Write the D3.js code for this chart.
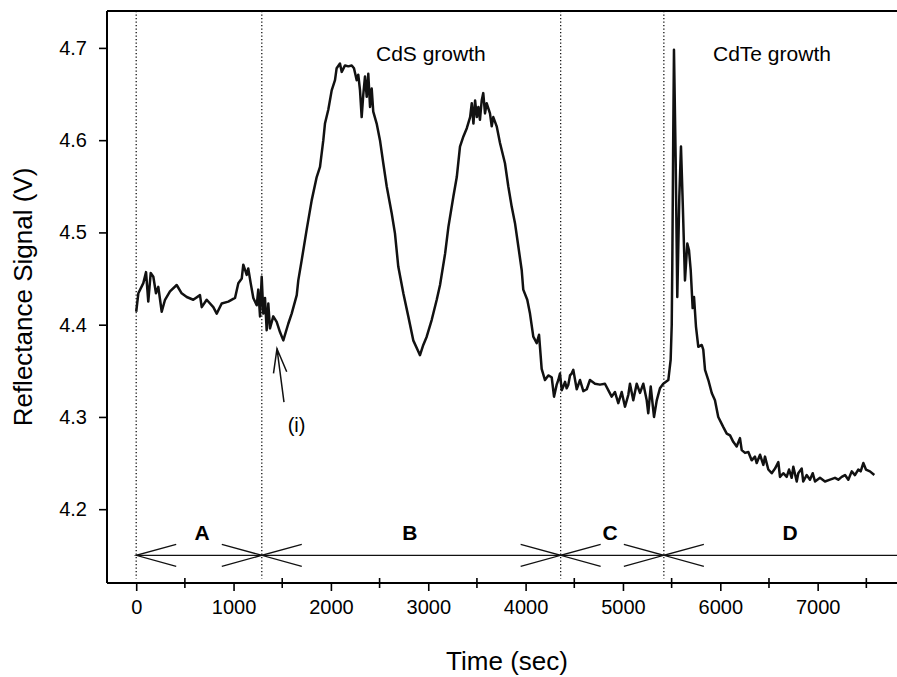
<!DOCTYPE html>
<html>
<head>
<meta charset="utf-8">
<script src="https://cdn.jsdelivr.net/npm/d3@7"></script>
<style>
  body { margin: 0; background: #fff; }
  svg { display: block; font-family: "Liberation Sans", Arial, sans-serif; }
</style>
</head>
<body>
<div id="chart"></div>
<script>
// time (sec) and reflectance signal (V)
const times = [0,22,73,101,124,149,176,203,227,262,296,347,416,467,519,586,655,673,724,792,827,878,946,1015,1049,1084,1100,1135,1151,1176,1203,1238,1254,1272,1289,1306,1323,1340,1357,1374,1408,1443,1477,1511,1562,1597,1649,1665,1700,1751,1803,1854,1888,1922,1939,1973,2008,2042,2059,2093,2111,2145,2179,2214,2237,2265,2281,2299,2316,2333,2350,2368,2384,2402,2419,2435,2470,2504,2538,2573,2624,2658,2692,2744,2795,2846,2898,2915,2949,2984,3035,3087,3121,3173,3207,3258,3293,3326,3361,3396,3430,3447,3464,3481,3499,3515,3531,3549,3565,3583,3600,3634,3652,3668,3703,3737,3788,3822,3857,3891,3925,3960,3976,4017,4045,4079,4114,4138,4165,4199,4233,4268,4292,4319,4336,4353,4371,4387,4405,4422,4439,4456,4473,4490,4525,4559,4593,4628,4661,4713,4764,4815,4849,4884,4918,4952,4987,5021,5055,5072,5106,5141,5175,5209,5244,5260,5285,5319,5347,5380,5414,5466,5490,5501,5507,5517,5524,5542,5558,5579,5596,5614,5637,5661,5678,5696,5716,5730,5750,5774,5809,5825,5843,5877,5912,5945,5979,6031,6066,6100,6133,6168,6202,6220,6254,6288,6322,6356,6374,6408,6442,6459,6493,6528,6562,6596,6613,6647,6682,6706,6733,6750,6785,6801,6836,6852,6887,6921,6949,6973,7024,7075,7127,7178,7212,7247,7281,7315,7350,7383,7417,7442,7469,7496,7537,7582];
const signal = [4.414,4.434,4.445,4.457,4.425,4.456,4.452,4.434,4.441,4.414,4.427,4.436,4.443,4.434,4.430,4.427,4.432,4.419,4.427,4.419,4.412,4.423,4.425,4.429,4.445,4.450,4.465,4.454,4.461,4.445,4.429,4.421,4.438,4.409,4.452,4.412,4.429,4.394,4.423,4.396,4.409,4.403,4.392,4.383,4.401,4.412,4.432,4.448,4.470,4.503,4.535,4.560,4.571,4.600,4.618,4.633,4.654,4.665,4.678,4.683,4.674,4.681,4.680,4.681,4.678,4.665,4.671,4.654,4.625,4.650,4.669,4.647,4.672,4.636,4.656,4.631,4.618,4.600,4.575,4.550,4.521,4.499,4.463,4.434,4.409,4.383,4.371,4.367,4.378,4.387,4.405,4.427,4.443,4.477,4.506,4.539,4.560,4.593,4.604,4.613,4.625,4.640,4.618,4.643,4.625,4.636,4.622,4.643,4.651,4.629,4.640,4.629,4.615,4.625,4.615,4.597,4.575,4.550,4.528,4.510,4.485,4.459,4.438,4.427,4.412,4.387,4.380,4.389,4.352,4.340,4.345,4.343,4.322,4.335,4.340,4.347,4.329,4.333,4.338,4.331,4.335,4.345,4.347,4.351,4.330,4.340,4.328,4.330,4.340,4.336,4.335,4.336,4.329,4.322,4.327,4.315,4.327,4.311,4.324,4.336,4.318,4.336,4.326,4.336,4.318,4.304,4.333,4.300,4.318,4.331,4.336,4.340,4.362,4.400,4.467,4.611,4.698,4.575,4.430,4.539,4.593,4.532,4.448,4.488,4.481,4.459,4.418,4.430,4.398,4.376,4.378,4.373,4.351,4.340,4.326,4.318,4.300,4.289,4.282,4.280,4.273,4.268,4.277,4.264,4.261,4.262,4.253,4.257,4.250,4.259,4.248,4.257,4.243,4.239,4.244,4.251,4.235,4.239,4.235,4.243,4.234,4.246,4.230,4.239,4.244,4.230,4.237,4.232,4.239,4.230,4.234,4.230,4.232,4.234,4.232,4.235,4.237,4.232,4.241,4.237,4.243,4.241,4.250,4.243,4.241,4.237];

const xTicks = [0,1000,2000,3000,4000,5000,6000,7000];
const xMinor = [500,1500,2500,3500,4500,5500,6500,7500];
const yTicks = [4.2,4.3,4.4,4.5,4.6,4.7];

const phaseBounds = [0,1290,4360,5420];
const phaseNames = ["A","B","C","D"];
const phaseLabelT = [676,2812,4867,6716];
const phaseLevel = 4.15, phaseLabelLevel = 4.167;

const notes = [
  {text:"CdS growth", t:2463, v:4.686},
  {text:"CdTe growth", t:5925, v:4.686}
];
const markerTail = [1518,4.316], markerTip = [1446,4.374];
const markerLabel = {text:"(i)", t:1647, v:4.284};

const W = 897, H = 677;
const m = {left: 107, top: 11, right: 897, bottom: 583};

const x = d3.scaleLinear().domain([-300,7815]).range([m.left,m.right]);
const y = d3.scaleLinear().domain([4.12,4.74]).range([m.bottom,m.top]);

const svg = d3.select("#chart").append("svg")
  .attr("width", W).attr("height", H);

svg.append("rect").attr("width", W).attr("height", H).attr("fill", "#fff");

// dotted phase boundaries
svg.append("g").selectAll("line")
  .data(phaseBounds).enter().append("line")
  .attr("x1", d => x(d)).attr("x2", d => x(d))
  .attr("y1", m.top).attr("y2", y(4.125))
  .attr("stroke", "#111").attr("stroke-width", 1.3)
  .attr("stroke-dasharray", "1.3,2.2");

// frame
svg.append("line").attr("x1", m.left).attr("x2", m.right).attr("y1", m.top).attr("y2", m.top)
  .attr("stroke", "#000").attr("stroke-width", 2);
svg.append("line").attr("x1", m.left).attr("x2", m.left).attr("y1", m.top).attr("y2", m.bottom)
  .attr("stroke", "#000").attr("stroke-width", 2);

// axes
const xAxis = svg.append("g").attr("transform", `translate(0,${m.bottom})`)
  .call(d3.axisBottom(x).tickValues(xTicks).tickSize(8).tickPadding(9).tickFormat(d3.format("d")));
xAxis.select(".domain").remove();
xAxis.append("line").attr("x1", m.left).attr("x2", m.right).attr("stroke", "#000").attr("stroke-width", 2);
xAxis.selectAll(".tick line").attr("stroke-width", 1.6);
xAxis.selectAll("text").attr("font-size", 20).attr("fill", "#000");
xAxis.selectAll(".minor").data(xMinor).enter().append("line")
  .attr("class", "minor")
  .attr("x1", d => x(d)).attr("x2", d => x(d))
  .attr("y1", -5).attr("y2", 5)
  .attr("stroke", "#000").attr("stroke-width", 1.6);

const yAxis = svg.append("g").attr("transform", `translate(${m.left},0)`)
  .call(d3.axisLeft(y).tickValues(yTicks).tickSize(8).tickPadding(12).tickFormat(d3.format(".1f")));
yAxis.select(".domain").remove();
yAxis.selectAll(".tick line").attr("stroke-width", 1.6);
yAxis.selectAll("text").attr("font-size", 20).attr("fill", "#000");

// axis titles
svg.append("text").attr("x", 507).attr("y", 670)
  .attr("text-anchor", "middle").attr("font-size", 26).text("Time (sec)");
svg.append("text").attr("transform", `translate(32,${(m.top + m.bottom) / 2}) rotate(-90)`)
  .attr("text-anchor", "middle").attr("font-size", 26).text("Reflectance Signal (V)");

// signal trace
const line = d3.line().x((d, i) => x(times[i])).y(d => y(d));
svg.append("path").datum(signal)
  .attr("d", line)
  .attr("fill", "none").attr("stroke", "#111")
  .attr("stroke-width", 2.5).attr("stroke-linejoin", "round");

// phase arrows
const ph = svg.append("g").attr("stroke", "#111").attr("stroke-width", 1.3).attr("fill", "none");
const py = y(phaseLevel);
ph.append("line").attr("x1", x(phaseBounds[0])).attr("x2", m.right).attr("y1", py).attr("y2", py);
phaseBounds.forEach((b, i) => {
  const bx = x(b);
  // head pointing left (start of this phase)
  ph.append("path").attr("d", `M${bx + 40},${py - 11}L${bx},${py}L${bx + 40},${py + 11}`);
  // head pointing right (end of previous phase)
  if (i > 0) ph.append("path").attr("d", `M${bx - 40},${py - 11}L${bx},${py}L${bx - 40},${py + 11}`);
});
svg.append("g").selectAll("text").data(phaseNames).enter().append("text")
  .attr("x", (d, i) => x(phaseLabelT[i])).attr("y", y(phaseLabelLevel))
  .attr("text-anchor", "middle").attr("font-size", 21).attr("font-weight", "bold")
  .text(d => d);

// annotations
svg.append("g").selectAll("text").data(notes).enter().append("text")
  .attr("x", d => x(d.t)).attr("y", d => y(d.v))
  .attr("font-size", 21).text(d => d.text);

// (i) marker arrow
const tx = x(markerTail[0]), ty = y(markerTail[1]);
const hx = x(markerTip[0]), hy = y(markerTip[1]);
const ang = Math.atan2(ty - hy, tx - hx);
const arm = 25, spread = 0.27;
svg.append("path")
  .attr("d", `M${tx},${ty}L${hx},${hy}` +
    `M${hx + arm * Math.cos(ang - spread)},${hy + arm * Math.sin(ang - spread)}L${hx},${hy}` +
    `L${hx + arm * Math.cos(ang + spread)},${hy + arm * Math.sin(ang + spread)}`)
  .attr("fill", "none").attr("stroke", "#111").attr("stroke-width", 1.5);
svg.append("text").attr("x", x(markerLabel.t)).attr("y", y(markerLabel.v))
  .attr("text-anchor", "middle").attr("font-size", 20).text(markerLabel.text);
</script>
</body>
</html>
